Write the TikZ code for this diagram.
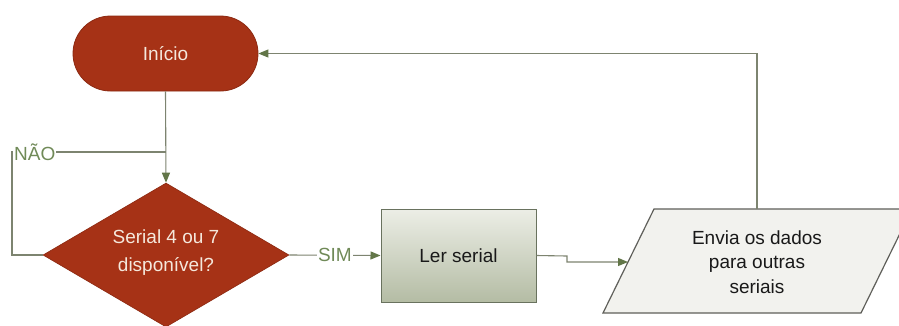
\documentclass[tikz,border=0pt]{standalone}
\usepackage{fontspec}
\setmainfont{Liberation Sans}
\usetikzlibrary{arrows.meta,shapes.geometric}
\definecolor{redfill}{RGB}{166,50,22}
\definecolor{reddraw}{RGB}{140,40,16}
\definecolor{lighttext}{RGB}{245,232,220}
\definecolor{linec}{RGB}{125,132,112}
\definecolor{arrowc}{RGB}{98,118,72}
\definecolor{labelc}{RGB}{112,138,88}
\definecolor{boxtop}{RGB}{236,238,230}
\definecolor{boxbot}{RGB}{180,188,164}
\definecolor{boxdraw}{RGB}{105,114,94}
\definecolor{parafill}{RGB}{242,242,238}
\definecolor{paradraw}{RGB}{95,95,90}
\tikzset{
  base/.style={font=\fontsize{19}{24}\selectfont},
  terminal/.style={base, rectangle, rounded corners=37.5pt, fill=redfill, draw=reddraw, line width=0.8pt,
    text=lighttext, minimum width=185pt, minimum height=75pt},
  decision/.style={base, diamond, shape aspect=1.7, fill=redfill, draw=reddraw, line width=0.6pt, text=lighttext,
    minimum width=246pt, minimum height=144pt, inner sep=0pt, align=center},
  process/.style={base, rectangle, top color=boxtop, bottom color=boxbot, draw=boxdraw, line width=1pt,
    minimum width=155pt, minimum height=93pt, text=black!90},
  iobox/.style={fill=parafill, draw=paradraw, line width=1.2pt},
  conn/.style={draw=linec, line width=1.1pt},
  arr/.style={conn, -{Triangle[length=10pt,width=8pt,color=arrowc]}},
  lbl/.style={base, text=labelc, fill=white, inner sep=1pt}
}
\begin{document}
\begin{tikzpicture}[x=1pt,y=1pt]
\useasboundingbox (0,0) rectangle (899,-325);
\fill[white] (0,0) rectangle (899,-325);
% shapes
\node[terminal] (inicio) at (165.5,-53.5) {Início};
\node[decision] (dec) at (166,-255) {\raisebox{9pt}{\shortstack[c]{Serial 4 ou 7\\[11pt]disponível?}}};
\node[process] (ler) at (458.5,-255.5) {Ler serial};
\draw[iobox] (603,-313) -- (654,-209) -- (912,-209) -- (861,-313) -- cycle;
\node[base, align=center, text=black!90, font=\fontsize{19}{24.5}\selectfont] (envia) at (757,-262) {Envia os dados\\para outras\\seriais};
\coordinate (envL) at (628,-262);
\coordinate (envT) at (757,-209);
\coordinate (envTop) at (757,-53.5);
\coordinate (ns) at (12,-152);
\coordinate (nj) at (166,-152);
\coordinate (lj) at (567,-256);
% connectors
\draw[arr] (inicio.south) -- (dec.north);
\draw[conn] (dec.west) -| (ns) -- (nj);
\node[lbl, anchor=west] (nao) at (13,-152) {NÃO};
\draw[arr] (dec.east) -- node[lbl] (sim) {SIM} (ler.west);
\draw[arr] (ler.east) -- (lj) |- (envL);
\draw[arr] (envT) -- (envTop) -- (inicio.east);
\end{tikzpicture}
\end{document}
